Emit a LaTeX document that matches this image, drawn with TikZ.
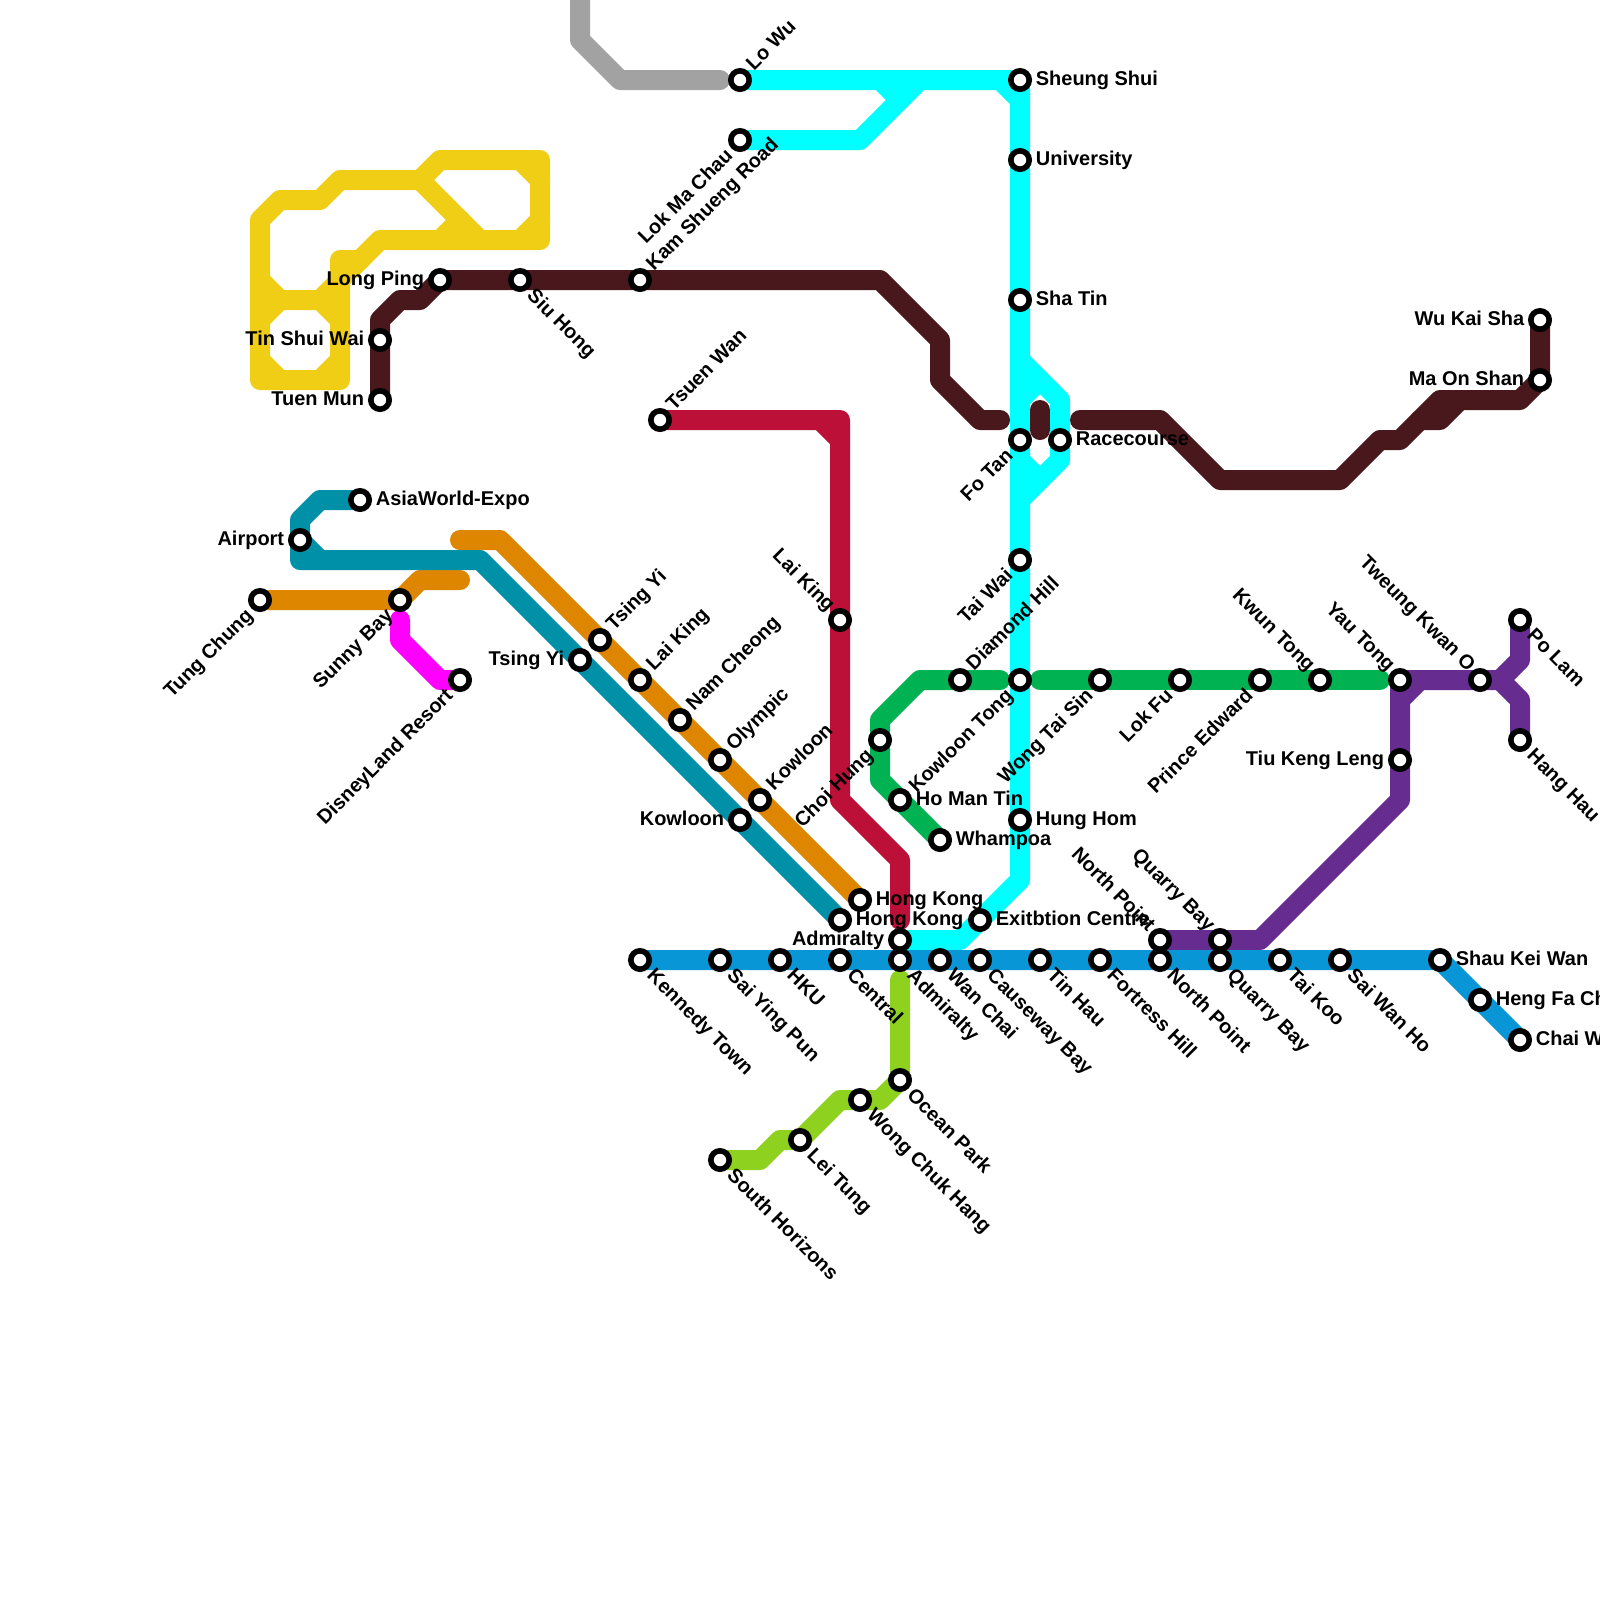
\documentclass[tikz,border=0pt]{standalone}
\usepackage{fontspec}
\setmainfont{Liberation Sans}
\usepackage{xcolor}
\usetikzlibrary{backgrounds}
\definecolor{lineYellow}{HTML}{F0CE15}
\definecolor{lineBrown}{HTML}{48181C}
\definecolor{lineCyan}{HTML}{00FFFF}
\definecolor{lineRed}{HTML}{BD1038}
\definecolor{lineOrange}{HTML}{DF8600}
\definecolor{lineTeal}{HTML}{0090A8}
\definecolor{lineBlue}{HTML}{0896D7}
\definecolor{lineGreen}{HTML}{00B251}
\definecolor{linePurple}{HTML}{662C90}
\definecolor{lineLime}{HTML}{8ED11F}
\definecolor{lineGrey}{HTML}{A2A2A2}
\definecolor{lineMagenta}{RGB}{255,0,255}

\begin{document}
\begin{tikzpicture}[
  x=0.5cm, y=-0.5cm,
  label distance=0.07cm,
  metro/.style={line width=0.5cm, line cap=round, line join=round},
  station/.style={draw=black, fill=white, circle, line width=0.14cm, minimum size=0.46cm, inner sep=0pt},
  every label/.style={inner sep=0pt, font=\bfseries\fontsize{14.2}{14.2}\selectfont, text height=8pt, text depth=0pt},
  lblE/.style={anchor=west, xshift=0.02cm},
  lblW/.style={anchor=east, xshift=-0.02cm},
  lblNE/.style={rotate=45, anchor=west, xshift=0.05cm},
  lblSE/.style={rotate=-45, anchor=west, xshift=0.05cm},
  lblSW/.style={rotate=45, anchor=east, xshift=-0.05cm},
  lblNW/.style={rotate=-45, anchor=east}
]
  \useasboundingbox (0,0) rectangle (80,80);

  % west rail
  \node[station, label={[lblW]180:Long Ping}] (longping) at (22,14) {};
  \node[station, label={[lblSE]-45:Siu Hong}] (siuhong) at (26,14) {};
  \node[station, label={[lblNE]45:Kam Shueng Road}] (kamsheung) at (32,14) {};
  \node[station, label={[lblW]180:Tin Shui Wai}] (tinshuiwai) at (19,17) {};
  \node[station, label={[lblW]180:Tuen Mun}] (tuenmun) at (19,20) {};
  % ma on shan end
  \node[station, label={[lblW]180:Wu Kai Sha}] (wukaisha) at (77,16) {};
  \node[station, label={[lblW]180:Ma On Shan}] (maonshan) at (77,19) {};

  % east rail
  \node[station, label={[lblNE]45:Lo Wu}] (lowu) at (37,4) {};
  \node[station, label={[lblSW]-135:Lok Ma Chau}] (lokmachau) at (37,7) {};
  \node[station, label={[lblE]0:Sheung Shui}] (sheungshui) at (51,4) {};
  \node[station, label={[lblE]0:University}] (university) at (51,8) {};
  \node[station, label={[lblE]0:Sha Tin}] (shatin) at (51,15) {};
  \node[station, label={[lblSW]-135:Fo Tan}] (fotan) at (51,22) {};
  \node[station, label={[lblE]0:Racecourse}] (racecourse) at (53,22) {};
  \node[station, label={[lblSW]-135:Tai Wai}] (taiwai) at (51,28) {};
  \node[station, label={[lblSW]-135:Kowloon Tong}] (kowloontong) at (51,34) {};
  \node[station, label={[lblE]0:Hung Hom}] (hunghom) at (51,41) {};
  \node[station, label={[lblE]0:Exitbtion Centre}] (exhibition) at (49,46) {};
  \node[station, label={[lblW]180:Admiralty}] (admiraltyE) at (45,47) {};

  % tsuen wan line
  \node[station, label={[lblNE]45:Tsuen Wan}] (tsuenwan) at (33,21) {};
  \node[station, label={[lblNW]135:Lai King}] (laikingR) at (42,31) {};

  % airport, tung chung
  \node[station, label={[lblE]0:AsiaWorld-Expo}] (asiaworld) at (18,25) {};
  \node[station, label={[lblW]180:Airport}] (airport) at (15,27) {};
  \node[station, label={[lblW]180:Tsing Yi}] (tsingyiT) at (29,33) {};
  \node[station, label={[lblW]180:Kowloon}] (kowloonT) at (37,41) {};
  \node[station, label={[lblE]0:Hong Kong}] (hongkongT) at (42,46) {};
  \node[station, label={[lblSW]-135:Tung Chung}] (tungchung) at (13,30) {};
  \node[station, label={[lblSW]-135:Sunny Bay}] (sunnybay) at (20,30) {};
  \node[station, label={[lblSW]-135:DisneyLand Resort}] (disney) at (23,34) {};
  \node[station, label={[lblNE]45:Tsing Yi}] (tsingyiO) at (30,32) {};
  \node[station, label={[lblNE]45:Lai King}] (laikingO) at (32,34) {};
  \node[station, label={[lblNE]45:Nam Cheong}] (namcheong) at (34,36) {};
  \node[station, label={[lblNE]45:Olympic}] (olympic) at (36,38) {};
  \node[station, label={[lblNE]45:Kowloon}] (kowloonO) at (38,40) {};
  \node[station, label={[lblE]0:Hong Kong}] (hongkongO) at (43,45) {};

  % kwun tong line
  \node[station, label={[lblE]0:Whampoa}] (whampoa) at (47,42) {};
  \node[station, label={[lblE]0:Ho Man Tin}] (homantin) at (45,40) {};
  \node[station, label={[lblSW]-135:Choi Hung}] (choihung) at (44,37) {};
  \node[station, label={[lblNE]45:Diamond Hill}] (diamondhill) at (48,34) {};
  \node[station, label={[lblSW]-135:Wong Tai Sin}] (wongtaisin) at (55,34) {};
  \node[station, label={[lblSW]-135:Lok Fu}] (lokfu) at (59,34) {};
  \node[station, label={[lblSW]-135:Prince Edward}] (princeedward) at (63,34) {};
  \node[station, label={[lblNW]135:Kwun Tong}] (kwuntong) at (66,34) {};

  % tseung kwan o line
  \node[station, label={[lblNW]135:Yau Tong}] (yautong) at (70,34) {};
  \node[station, label={[lblNW]135:Tweung Kwan O}] (tkwano) at (74,34) {};
  \node[station, label={[lblSE]-45:Po Lam}] (polam) at (76,31) {};
  \node[station, label={[lblSE]-45:Hang Hau}] (hanghau) at (76,37) {};
  \node[station, label={[lblW]180:Tiu Keng Leng}] (tiukeng) at (70,38) {};
  \node[station, label={[lblNW]135:North Point}] (northpointP) at (58,47) {};
  \node[station, label={[lblNW]135:Quarry Bay}] (quarrybayP) at (61,47) {};

  % island line
  \node[station, label={[lblSE]-45:Kennedy Town}] (kennedy) at (32,48) {};
  \node[station, label={[lblSE]-45:Sai Ying Pun}] (saiyingpun) at (36,48) {};
  \node[station, label={[lblSE]-45:HKU}] (hku) at (39,48) {};
  \node[station, label={[lblSE]-45:Central}] (central) at (42,48) {};
  \node[station, label={[lblSE]-45:Admiralty}] (admiraltyB) at (45,48) {};
  \node[station, label={[lblSE]-45:Wan Chai}] (wanchai) at (47,48) {};
  \node[station, label={[lblSE]-45:Causeway Bay}] (causeway) at (49,48) {};
  \node[station, label={[lblSE]-45:Tin Hau}] (tinhau) at (52,48) {};
  \node[station, label={[lblSE]-45:Fortress Hill}] (fortress) at (55,48) {};
  \node[station, label={[lblSE]-45:North Point}] (northpointB) at (58,48) {};
  \node[station, label={[lblSE]-45:Quarry Bay}] (quarrybayB) at (61,48) {};
  \node[station, label={[lblSE]-45:Tai Koo}] (taikoo) at (64,48) {};
  \node[station, label={[lblSE]-45:Sai Wan Ho}] (saiwanho) at (67,48) {};
  \node[station, label={[lblE]0:Shau Kei Wan}] (shaukeiwan) at (72,48) {};
  \node[station, label={[lblE]0:Heng Fa Chuen}] (hengfa) at (74,50) {};
  \node[station, label={[lblE]0:Chai Wan}] (chaiwan) at (76,52) {};

  % south island line
  \node[station, label={[lblSE]-45:Ocean Park}] (oceanpark) at (45,54) {};
  \node[station, label={[lblSE]-45:Wong Chuk Hang}] (wongchuk) at (43,55) {};
  \node[station, label={[lblSE]-45:Lei Tung}] (leitung) at (40,57) {};
  \node[station, label={[lblSE]-45:South Horizons}] (southhor) at (36,58) {};

  \begin{pgfonlayer}{background}
    \fill[white] (0,0) rectangle (80,80);

    % yellow
    \draw[metro, lineYellow] (13,19) -- (17,19) -- (17,14) -- (19,12) -- (27,12) -- (27,8) -- (22,8) -- (21,9) -- (17,9) -- (16,10) -- (14,10) -- (13,11) -- cycle;
    \draw[metro, lineYellow] (21,9) -- (24,12);
    \draw[metro, lineYellow] (22,12) -- (23,11);
    \draw[metro, lineYellow] (26,8) -- (27,9);
    \draw[metro, lineYellow] (27,11) -- (26,12);
    \draw[metro, lineYellow] (17,14) -- (17,13) -- (18,13);
    \draw[metro, lineYellow] (13,14) -- (14,15) -- (16,15) -- (17,14);
    \draw[metro, lineYellow] (13,16) -- (14,15);
    \draw[metro, lineYellow] (16,15) -- (17,16);
    \draw[metro, lineYellow] (17,18) -- (16,19);
    \draw[metro, lineYellow] (14,19) -- (13,18);

    % grey
    \draw[metro, lineGrey] (29,-1) -- (29,2) -- (31,4) -- (36,4);

    % cyan
    \draw[metro, lineCyan] (lowu.center) -- (sheungshui.center) -- (51,44) -- (48,47) -- (admiraltyE.center);
    \draw[metro, lineCyan] (lokmachau.center) -- (43,7) -- (46,4);
    \draw[metro, lineCyan] (44,4) -- (45,5);
    \draw[metro, lineCyan] (50,4) -- (51,5);
    \draw[metro, lineCyan] (51,18) -- (53,20) -- (53,23) -- (51,25);
    \draw[metro, lineCyan] (51,20) -- (52,19);
    \draw[metro, lineCyan] (51,23) -- (52,24);

    % brown
    \draw[metro, lineBrown] (tuenmun.center) -- (19,16) -- (20,15) -- (21,15) -- (longping.center) -- (44,14) -- (47,17) -- (47,19) -- (49,21) -- (50,21);
    \draw[metro, lineBrown] (52,20.5) -- (52,21.5);
    \draw[metro, lineBrown] (54,21) -- (58,21) -- (61,24) -- (67,24) -- (69,22) -- (70,22) -- (72,20) -- (76,20) -- (maonshan.center) -- (wukaisha.center);
    \draw[metro, lineBrown] (71,21) -- (72,21) -- (73,20);

    % crimson
    \draw[metro, lineRed] (tsuenwan.center) -- (42,21) -- (42,40) -- (45,43) -- (45,46);
    \draw[metro, lineRed] (41,21) -- (42,22);

    % orange
    \draw[metro, lineOrange] (tungchung.center) -- (sunnybay.center) -- (21,29) -- (23,29);
    \draw[metro, lineOrange] (23,27) -- (25,27) -- (hongkongO.center);

    % teal
    \draw[metro, lineTeal] (asiaworld.center) -- (16,25) -- (15,26) -- (15,28) -- (24,28) -- (hongkongT.center);
    \draw[metro, lineTeal] (airport.center) -- (16,28);

    % magenta
    \draw[metro, lineMagenta] (20,31) -- (20,32) -- (22,34) -- (disney.center);

    % green
    \draw[metro, lineGreen] (50,34) -- (46,34) -- (44,36) -- (44,39) -- (whampoa.center);
    \draw[metro, lineGreen] (52,34) -- (69,34);

    % purple
    \draw[metro, linePurple] (northpointP.center) -- (63,47) -- (70,40) -- (yautong.center) -- (75,34) -- (76,33) -- (polam.center);
    \draw[metro, linePurple] (75,34) -- (76,35) -- (hanghau.center);
    \draw[metro, linePurple] (70,35) -- (71,34);

    % blue
    \draw[metro, lineBlue] (kennedy.center) -- (shaukeiwan.center) -- (chaiwan.center);

    % lime
    \draw[metro, lineLime] (45,49) -- (oceanpark.center) -- (44,55) -- (42,55) -- (40,57) -- (39,57) -- (38,58) -- (southhor.center);
  \end{pgfonlayer}
\end{tikzpicture}
\end{document}
